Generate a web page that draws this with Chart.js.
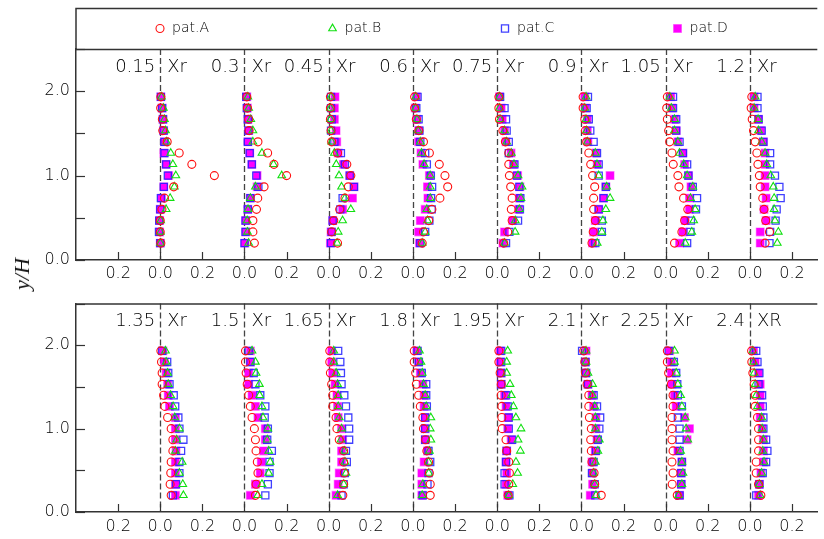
<!DOCTYPE html>
<html>
<head>
<meta charset="utf-8">
<script src="https://cdn.jsdelivr.net/npm/chart.js@4"></script>
<style>
  body { margin: 0; background: #fff; }
  #wrap { position: relative; width: 824px; height: 539px; overflow: hidden; }
  #wrap canvas { position: absolute; left: 0; }
  #ylabel {
    position: absolute; left: 22px; top: 274px;
    transform: translate(-50%, -50%) rotate(-90deg);
    font: italic 22px "Liberation Serif", "DejaVu Serif", serif;
    color: #111; white-space: nowrap;
  }
</style>
</head>
<body>
<div id="wrap">
  <canvas id="topPanel" width="824" height="290" style="top:0"></canvas>
  <canvas id="bottomPanel" width="824" height="251" style="top:288px"></canvas>
  <div id="ylabel">y/H</div>
</div>
<script>
// measuring heights y/H, same for every station
const yLevels = [1.933, 1.8, 1.667, 1.533, 1.4, 1.267, 1.133, 1.0, 0.867, 0.733, 0.6, 0.467, 0.333, 0.2];

const stationsTop = ["0.15", "0.3", "0.45", "0.6", "0.75", "0.9", "1.05", "1.2"];
const tagsTop = ["Xr", "Xr", "Xr", "Xr", "Xr", "Xr", "Xr", "Xr"];
const stationsBottom = ["1.35", "1.5", "1.65", "1.8", "1.95", "2.1", "2.25", "2.4"];
const tagsBottom = ["Xr", "Xr", "Xr", "Xr", "Xr", "Xr", "Xr", "XR"];

const seriesNames = ["pat.A", "pat.B", "pat.C", "pat.D"];

// one row per station, values listed from the top level down
const patA_top = [
  [0.003, 0.002, 0.010, 0.012, 0.033, 0.090, 0.150, 0.257, 0.064, 0.020, 0.008, 0.000, 0.000, 0.003],
  [0.011, 0.014, 0.020, 0.022, 0.064, 0.110, 0.140, 0.200, 0.093, 0.063, 0.057, 0.040, 0.040, 0.047],
  [0.008, 0.008, 0.008, 0.011, 0.014, 0.042, 0.086, 0.105, 0.093, 0.077, 0.052, 0.024, 0.014, 0.042],
  [0.008, 0.008, 0.016, 0.028, 0.050, 0.078, 0.125, 0.152, 0.165, 0.128, 0.090, 0.075, 0.050, 0.044],
  [0.008, 0.008, 0.011, 0.027, 0.039, 0.055, 0.055, 0.058, 0.064, 0.071, 0.067, 0.071, 0.050, 0.031],
  [0.008, 0.008, 0.016, 0.019, 0.025, 0.035, 0.044, 0.053, 0.063, 0.058, 0.058, 0.066, 0.056, 0.050],
  [0.008, 0.005, 0.008, 0.014, 0.019, 0.030, 0.036, 0.058, 0.063, 0.085, 0.105, 0.090, 0.077, 0.042],
  [0.009, 0.006, 0.011, 0.017, 0.025, 0.033, 0.038, 0.045, 0.049, 0.061, 0.067, 0.075, 0.093, 0.072]
];
const patB_top = [
  [0.006, 0.015, 0.020, 0.025, 0.030, 0.050, 0.060, 0.074, 0.067, 0.047, 0.028, 0.002, 0.001, 0.001],
  [0.016, 0.020, 0.030, 0.040, 0.040, 0.083, 0.138, 0.177, 0.052, 0.028, 0.017, 0.013, 0.014, 0.020],
  [0.011, 0.008, 0.008, 0.011, 0.014, 0.027, 0.036, 0.049, 0.061, 0.077, 0.105, 0.066, 0.045, 0.040],
  [0.013, 0.013, 0.019, 0.025, 0.035, 0.041, 0.053, 0.082, 0.082, 0.082, 0.066, 0.069, 0.058, 0.044],
  [0.011, 0.011, 0.014, 0.035, 0.045, 0.067, 0.080, 0.099, 0.118, 0.113, 0.105, 0.086, 0.085, 0.035],
  [0.022, 0.016, 0.022, 0.025, 0.028, 0.066, 0.074, 0.082, 0.120, 0.136, 0.116, 0.102, 0.097, 0.075],
  [0.020, 0.027, 0.042, 0.042, 0.058, 0.066, 0.086, 0.102, 0.129, 0.118, 0.140, 0.133, 0.124, 0.093],
  [0.025, 0.020, 0.039, 0.041, 0.056, 0.072, 0.080, 0.099, 0.111, 0.115, 0.115, 0.119, 0.135, 0.130]
];
const patC_top = [
  [0.003, 0.009, 0.013, 0.016, 0.020, 0.020, 0.028, 0.036, 0.017, 0.003, 0.000, -0.005, -0.006, 0.000],
  [0.008, 0.011, 0.016, 0.019, 0.016, 0.025, 0.035, 0.056, 0.066, 0.028, 0.016, 0.005, 0.005, 0.000],
  [0.011, 0.011, 0.014, 0.011, 0.027, 0.058, 0.077, 0.100, 0.120, 0.066, 0.055, 0.019, 0.014, 0.011],
  [0.022, 0.016, 0.027, 0.031, 0.035, 0.058, 0.066, 0.085, 0.091, 0.086, 0.089, 0.078, 0.058, 0.035],
  [0.014, 0.035, 0.042, 0.045, 0.055, 0.055, 0.082, 0.093, 0.105, 0.110, 0.108, 0.099, 0.058, 0.042],
  [0.031, 0.025, 0.035, 0.042, 0.058, 0.074, 0.082, 0.082, 0.116, 0.105, 0.082, 0.097, 0.097, 0.066],
  [0.035, 0.035, 0.050, 0.050, 0.066, 0.082, 0.102, 0.108, 0.129, 0.149, 0.144, 0.120, 0.118, 0.102],
  [0.036, 0.036, 0.041, 0.056, 0.064, 0.096, 0.096, 0.119, 0.140, 0.146, 0.127, 0.122, 0.096, 0.093]
];
const patD_top = [
  [0.003, 0.009, 0.013, 0.016, 0.020, 0.017, 0.028, 0.040, 0.017, 0.006, 0.000, -0.003, -0.003, 0.000],
  [0.011, 0.014, 0.017, 0.020, 0.017, 0.025, 0.035, 0.060, 0.060, 0.028, 0.016, 0.006, 0.006, 0.002],
  [0.030, 0.027, 0.027, 0.035, 0.038, 0.045, 0.070, 0.100, 0.120, 0.113, 0.066, 0.019, 0.011, 0.008],
  [0.016, 0.011, 0.019, 0.027, 0.027, 0.038, 0.047, 0.078, 0.069, 0.071, 0.058, 0.035, 0.027, 0.031],
  [0.011, 0.019, 0.024, 0.035, 0.042, 0.066, 0.077, 0.097, 0.108, 0.105, 0.102, 0.074, 0.035, 0.027],
  [0.016, 0.019, 0.028, 0.028, 0.031, 0.069, 0.075, 0.136, 0.116, 0.105, 0.082, 0.066, 0.058, 0.053],
  [0.024, 0.030, 0.042, 0.050, 0.058, 0.082, 0.090, 0.108, 0.120, 0.113, 0.113, 0.093, 0.082, 0.066],
  [0.020, 0.020, 0.041, 0.052, 0.064, 0.072, 0.072, 0.072, 0.072, 0.077, 0.067, 0.077, 0.049, 0.049]
];

const patA_bot = [
  [0.003, 0.006, 0.009, 0.009, 0.016, 0.022, 0.035, 0.052, 0.060, 0.060, 0.052, 0.050, 0.047, 0.052],
  [0.005, 0.005, 0.008, 0.013, 0.020, 0.028, 0.036, 0.047, 0.052, 0.055, 0.061, 0.064, 0.055, 0.052],
  [0.005, 0.005, 0.008, 0.014, 0.019, 0.019, 0.035, 0.039, 0.050, 0.071, 0.071, 0.074, 0.071, 0.067],
  [0.006, 0.006, 0.013, 0.016, 0.027, 0.035, 0.047, 0.050, 0.060, 0.066, 0.074, 0.078, 0.082, 0.082],
  [0.008, 0.008, 0.014, 0.019, 0.019, 0.022, 0.022, 0.024, 0.042, 0.045, 0.055, 0.058, 0.055, 0.052],
  [0.011, 0.016, 0.019, 0.027, 0.035, 0.035, 0.038, 0.047, 0.044, 0.047, 0.050, 0.060, 0.063, 0.094],
  [0.008, 0.008, 0.014, 0.027, 0.035, 0.035, 0.030, 0.030, 0.030, 0.035, 0.030, 0.035, 0.031, 0.055],
  [0.008, 0.009, 0.014, 0.020, 0.025, 0.025, 0.036, 0.041, 0.041, 0.041, 0.030, 0.030, 0.041, 0.052]
];
const patB_bot = [
  [0.025, 0.028, 0.035, 0.038, 0.049, 0.061, 0.069, 0.091, 0.078, 0.072, 0.104, 0.091, 0.107, 0.110],
  [0.036, 0.052, 0.055, 0.071, 0.072, 0.083, 0.088, 0.111, 0.108, 0.115, 0.122, 0.115, 0.083, 0.063],
  [0.024, 0.024, 0.035, 0.042, 0.045, 0.045, 0.050, 0.061, 0.058, 0.074, 0.077, 0.082, 0.071, 0.042],
  [0.031, 0.038, 0.044, 0.050, 0.058, 0.063, 0.085, 0.082, 0.085, 0.078, 0.074, 0.075, 0.047, 0.044],
  [0.050, 0.045, 0.045, 0.061, 0.067, 0.077, 0.089, 0.113, 0.099, 0.110, 0.089, 0.097, 0.074, 0.055],
  [0.022, 0.022, 0.031, 0.053, 0.053, 0.063, 0.066, 0.066, 0.085, 0.078, 0.066, 0.058, 0.063, 0.069],
  [0.042, 0.042, 0.050, 0.058, 0.071, 0.077, 0.093, 0.097, 0.105, 0.071, 0.077, 0.082, 0.077, 0.061],
  [0.014, 0.017, 0.020, 0.025, 0.030, 0.036, 0.056, 0.058, 0.064, 0.061, 0.067, 0.056, 0.045, 0.049]
];
const patC_bot = [
  [0.009, 0.033, 0.038, 0.044, 0.064, 0.071, 0.086, 0.091, 0.110, 0.099, 0.091, 0.091, 0.075, 0.060],
  [0.020, 0.028, 0.044, 0.052, 0.075, 0.099, 0.096, 0.111, 0.108, 0.130, 0.119, 0.119, 0.111, 0.099],
  [0.045, 0.055, 0.058, 0.061, 0.074, 0.082, 0.093, 0.097, 0.097, 0.082, 0.086, 0.077, 0.071, 0.061],
  [0.022, 0.028, 0.042, 0.063, 0.063, 0.066, 0.058, 0.058, 0.058, 0.074, 0.082, 0.074, 0.069, 0.047],
  [0.019, 0.019, 0.019, 0.019, 0.042, 0.050, 0.055, 0.055, 0.071, 0.045, 0.042, 0.035, 0.035, 0.058],
  [0.003, 0.019, 0.022, 0.031, 0.058, 0.074, 0.089, 0.085, 0.078, 0.069, 0.058, 0.050, 0.063, 0.066],
  [0.014, 0.039, 0.050, 0.055, 0.058, 0.077, 0.058, 0.066, 0.066, 0.066, 0.077, 0.074, 0.074, 0.066],
  [0.030, 0.036, 0.045, 0.041, 0.058, 0.061, 0.064, 0.064, 0.077, 0.083, 0.077, 0.061, 0.045, 0.030]
];
const patD_bot = [
  [0.013, 0.020, 0.028, 0.035, 0.038, 0.044, 0.072, 0.072, 0.072, 0.075, 0.072, 0.072, 0.072, 0.072],
  [0.028, 0.028, 0.020, 0.020, 0.036, 0.052, 0.064, 0.099, 0.099, 0.091, 0.080, 0.075, 0.052, 0.028],
  [0.014, 0.014, 0.019, 0.030, 0.039, 0.042, 0.045, 0.061, 0.066, 0.061, 0.061, 0.050, 0.045, 0.035],
  [0.019, 0.027, 0.035, 0.047, 0.053, 0.053, 0.058, 0.058, 0.058, 0.069, 0.053, 0.042, 0.042, 0.042],
  [0.014, 0.014, 0.019, 0.019, 0.035, 0.042, 0.052, 0.050, 0.066, 0.045, 0.042, 0.045, 0.042, 0.050],
  [0.022, 0.019, 0.022, 0.031, 0.050, 0.058, 0.069, 0.069, 0.074, 0.066, 0.050, 0.053, 0.053, 0.042],
  [0.019, 0.027, 0.027, 0.030, 0.042, 0.050, 0.089, 0.113, 0.102, 0.058, 0.077, 0.074, 0.074, 0.066],
  [0.017, 0.025, 0.041, 0.049, 0.049, 0.049, 0.049, 0.058, 0.064, 0.064, 0.064, 0.052, 0.045, 0.041]
];

// each station gets its own 0.0 origin, spaced along one shared x axis
const STATION_GAP = 0.4;
const FONT = "'DejaVu Sans', sans-serif";
const AXIS = "#333";
const INK = "#000";

const markerStyles = [
  { pointStyle: "circle", pointRadius: 4, borderColor: "#ff1010", backgroundColor: "rgba(0,0,0,0)", pointBorderWidth: 1.1 },
  { pointStyle: "triangle", pointRadius: 4.4, borderColor: "#10e010", backgroundColor: "rgba(0,0,0,0)", pointBorderWidth: 1.1 },
  { pointStyle: "rect", pointRadius: 5, borderColor: "rgba(30,30,255,0.85)", backgroundColor: "rgba(0,0,0,0)", pointBorderWidth: 1.3 },
  { pointStyle: "rect", pointRadius: 5.5, borderColor: "rgba(255,0,255,0.45)", backgroundColor: "#ff00ff", pointBorderWidth: 1.2 }
];

function toPoints(rows) {
  return rows.flatMap((vals, k) => vals.map((v, i) => ({ x: k * STATION_GAP + v, y: yLevels[i] })));
}

const panelFrame = {
  id: "panelFrame",
  beforeDatasetsDraw(chart, args, opts) {
    const { ctx, chartArea: a, scales: { x, y } } = chart;
    ctx.save();
    // dashed zero line of every station
    ctx.strokeStyle = "#444";
    ctx.lineWidth = 1.3;
    ctx.setLineDash([6, 3]);
    opts.names.forEach((n, k) => {
      const px = Math.round(x.getPixelForValue(k * STATION_GAP)) + 0.5;
      ctx.beginPath();
      ctx.moveTo(px, a.top);
      ctx.lineTo(px, a.bottom);
      ctx.stroke();
    });
    ctx.setLineDash([]);
    // tick marks point into the plot
    ctx.strokeStyle = AXIS;
    ctx.lineWidth = 1.2;
    x.ticks.forEach(t => {
      if (t.value < -0.3) return;
      const px = Math.round(x.getPixelForValue(t.value)) + 0.5;
      ctx.beginPath();
      ctx.moveTo(px, a.bottom);
      ctx.lineTo(px, a.bottom - 8);
      ctx.stroke();
    });
    y.ticks.forEach(t => {
      const py = Math.round(y.getPixelForValue(t.value)) + 0.5;
      ctx.beginPath();
      ctx.moveTo(a.left, py);
      ctx.lineTo(a.left + 9, py);
      ctx.stroke();
    });
    // upper frame line
    ctx.lineWidth = 1.5;
    ctx.beginPath();
    ctx.moveTo(a.left, a.top + 0.5);
    ctx.lineTo(a.right, a.top + 0.5);
    ctx.stroke();
    // station captions either side of the dashed line
    ctx.fillStyle = INK;
    ctx.font = "200 18px " + FONT;
    ctx.textBaseline = "middle";
    opts.names.forEach((n, k) => {
      const px = x.getPixelForValue(k * STATION_GAP);
      ctx.textAlign = "right";
      ctx.fillText(n, px - 5, a.top + 18);
      ctx.textAlign = "left";
      ctx.fillText(opts.tags[k], px + 7, a.top + 18);
    });
    ctx.restore();
  },
  afterDraw(chart, args, opts) {
    if (!opts.legend) return;
    const { ctx, chartArea: a } = chart;
    const boxTop = 8;
    ctx.save();
    ctx.strokeStyle = AXIS;
    ctx.lineWidth = 1.5;
    ctx.beginPath();
    ctx.moveTo(a.right, boxTop + 0.5);
    ctx.lineTo(a.left, boxTop + 0.5);
    ctx.lineTo(a.left, a.top);
    ctx.stroke();
    const midY = (boxTop + a.top) / 2;
    chart.data.datasets.forEach((ds, i) => {
      const cx = a.left + 84 + i * 172.5;
      ctx.fillStyle = ds.backgroundColor;
      ctx.strokeStyle = ds.borderColor;
      ctx.lineWidth = ds.pointBorderWidth;
      Chart.helpers.drawPoint(ctx, {
        pointStyle: ds.pointStyle, rotation: 0,
        radius: ds.pointRadius, borderWidth: ds.pointBorderWidth
      }, cx, midY);
      ctx.fillStyle = INK;
      ctx.font = "200 14px " + FONT;
      ctx.textAlign = "left";
      ctx.textBaseline = "middle";
      ctx.fillText(ds.label, cx + 12, midY);
    });
    ctx.restore();
  }
};

function makePanel(canvasId, rowsBySeries, names, tags, layout) {
  const datasets = rowsBySeries.map((rows, s) => Object.assign({
    label: seriesNames[s],
    data: toPoints(rows)
  }, markerStyles[s]));

  return new Chart(document.getElementById(canvasId), {
    type: "scatter",
    data: { datasets },
    options: {
      responsive: false,
      animation: false,
      events: [],
      devicePixelRatio: 1,
      layout: { padding: { top: layout.top, right: 0, bottom: 0, left: 0 } },
      plugins: {
        legend: { display: false },
        tooltip: { enabled: false },
        panelFrame: { names, tags, legend: layout.legend }
      },
      scales: {
        x: {
          type: "linear",
          min: -0.4,
          max: 3.12,
          grid: { display: false, drawTicks: false },
          border: { color: AXIS, width: 1.5 },
          ticks: {
            stepSize: 0.2,
            includeBounds: false,
            autoSkip: false,
            maxRotation: 0,
            padding: layout.labelGap,
            color: INK,
            font: { family: FONT, size: 16, weight: "200" },
            callback: v => {
              if (v < -0.3 || v > 3.05) return "";
              return Math.abs(Math.round(v / 0.2)) % 2 === 0 ? "0.0" : "0.2";
            }
          },
          afterFit: s => { s.height = layout.xHeight; }
        },
        y: {
          min: 0,
          max: 2.5,
          grid: { display: false, drawTicks: false },
          border: { color: AXIS, width: 1.5 },
          ticks: {
            stepSize: 0.5,
            padding: 6,
            color: INK,
            font: { family: FONT, size: 16, weight: "200" },
            callback: v => (Math.abs(v - Math.round(v)) < 1e-6 ? v.toFixed(1) : "")
          },
          afterFit: s => { s.width = 76; }
        }
      }
    },
    plugins: [panelFrame]
  });
}

makePanel("topPanel", [patA_top, patB_top, patC_top, patD_top], stationsTop, tagsTop,
  { top: 49, xHeight: 30, labelGap: 4, legend: true });
makePanel("bottomPanel", [patA_bot, patB_bot, patC_bot, patD_bot], stationsBottom, tagsBottom,
  { top: 14, xHeight: 27, labelGap: 5, legend: false });
</script>
</body>
</html>
